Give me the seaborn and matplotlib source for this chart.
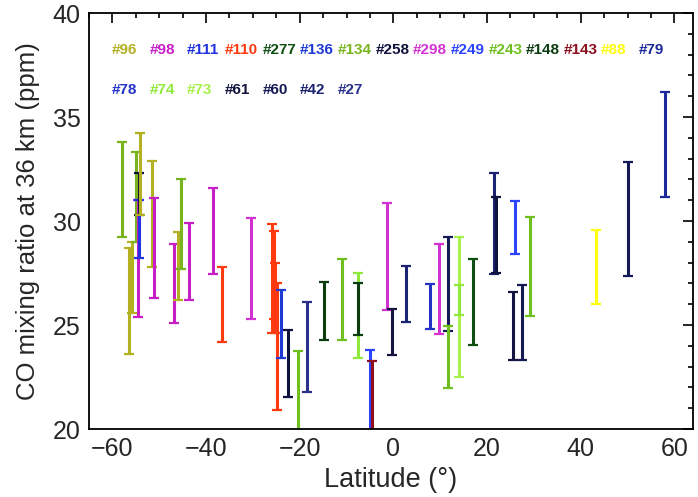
import matplotlib
matplotlib.use("Agg")
import matplotlib.pyplot as plt
from matplotlib.ticker import MultipleLocator
import pandas as pd
import seaborn as sns

# Orbit numbers and the colour used for each
orbits = ["96", "98", "111", "110", "277", "136", "134", "258", "298", "249",
          "243", "148", "143", "88", "79", "78", "74", "73", "61", "60", "42", "27"]
orbit_colors = ["#b3b022", "#c81ec8", "#2233e0", "#ff3a10", "#0f4f14", "#1f3ad4",
                "#78b41e", "#10123e", "#d232d2", "#2a44ff", "#6fbf1f", "#0c3d10",
                "#8e1020", "#ffff10", "#1c2a9c", "#2233c8", "#8fea3c", "#a8f04a",
                "#13143f", "#141a55", "#1c2370", "#2a318a"]

# CO ranges at 36 km: latitude, lower and upper limit, orbit
lat = [-57.9, -56.5, -55.8, -55.0, -54.6, -54.4, -54.4, -54.2, -51.6, -51.2,
       -46.8, -46.1, -45.3, -43.7, -38.6, -36.6, -30.4, -26.0, -25.6, -25.2,
       -24.8, -24.0, -22.5, -20.4, -18.4, -14.9, -11.0, -7.6, -7.6, -5.0,
       -4.5, -1.4, -0.4, 2.7, 7.8, 9.7, 11.6, 11.7, 14.1, 14.1,
       17.1, 21.4, 21.9, 25.6, 26.0, 27.5, 29.2, 43.3, 50.2, 57.9]
co_low = [29.25, 23.6, 25.6, 29.0, 25.4, 28.2, 30.3, 30.3, 27.8, 26.3,
          25.1, 26.2, 27.7, 26.2, 27.45, 24.2, 25.3, 24.6, 25.3, 24.6,
          20.9, 23.4, 21.55, 19.9, 21.8, 24.3, 24.3, 23.4, 24.5, 19.9,
          19.9, 25.7, 23.55, 25.15, 24.8, 24.55, 24.7, 21.95, 22.5, 25.5,
          24.05, 27.45, 27.5, 23.3, 28.4, 23.3, 25.45, 26.0, 27.35, 31.15]
co_high = [33.8, 28.7, 29.0, 33.3, 31.0, 31.0, 32.3, 34.25, 32.9, 31.1,
           28.9, 29.45, 32.0, 29.9, 31.6, 27.8, 30.15, 29.85, 29.5, 28.0,
           27.0, 26.7, 24.75, 23.75, 26.1, 27.05, 28.15, 27.5, 27.0, 23.8,
           23.25, 30.85, 25.75, 27.85, 26.95, 28.9, 29.25, 24.95, 29.25, 26.9,
           28.15, 32.3, 31.15, 26.6, 30.95, 26.9, 30.2, 29.55, 32.85, 36.2]
orbit = ["134", "96", "96", "134", "98", "111", "258", "96", "96", "98",
         "98", "96", "134", "98", "98", "110", "298", "110", "110", "110",
         "110", "136", "258", "243", "27", "148", "243", "74", "148", "249",
         "143", "298", "61", "42", "78", "298", "60", "243", "73", "74",
         "277", "42", "258", "61", "249", "60", "243", "88", "60", "79"]

df = pd.DataFrame({"lat": lat, "low": co_low, "high": co_high, "orbit": orbit})
palette = dict(zip(orbits, orbit_colors))

sns.set_style("white")
plt.rcParams["font.family"] = ["Liberation Sans", "DejaVu Sans"]

fig = plt.figure(figsize=(6.98, 4.97), dpi=100)
ax = fig.add_axes([0.1275, 0.1368, 0.8655, 0.837])

for _, row in df.iterrows():
    ax.errorbar([row["lat"]], [row["low"]], yerr=[[0], [row["high"] - row["low"]]],
                fmt="none", ecolor=palette[row["orbit"]], elinewidth=2.2,
                capsize=3.5, capthick=1.6)

# Orbit key in two rows across the top of the panel
per_row = 15
for i, (name, col) in enumerate(zip(orbits, orbit_colors)):
    r, c = divmod(i, per_row)
    ax.text(0.038 + c * 0.0623, 0.911 - r * 0.096, "#" + name, color=col,
            transform=ax.transAxes, fontsize=11, fontweight="bold",
            ha="left", va="center")

ax.set_xlim(-65, 64)
ax.set_ylim(20, 40)
ax.xaxis.set_major_locator(MultipleLocator(20))
ax.xaxis.set_minor_locator(MultipleLocator(5))
ax.yaxis.set_major_locator(MultipleLocator(5))
ax.yaxis.set_minor_locator(MultipleLocator(1))
ax.tick_params(which="both", direction="in", top=True, right=True,
               color="black", width=1.2)
ax.tick_params(which="major", length=7, labelsize=18, pad=6)
ax.tick_params(which="minor", length=3.5)
for s in ax.spines.values():
    s.set_color("black")
    s.set_linewidth(1.3)

ax.set_xlabel("Latitude (°)", fontsize=19.5, labelpad=4)
ax.set_ylabel("CO mixing ratio at 36 km (ppm)", fontsize=18.5, labelpad=9)

fig.savefig("out.png", dpi=100)
